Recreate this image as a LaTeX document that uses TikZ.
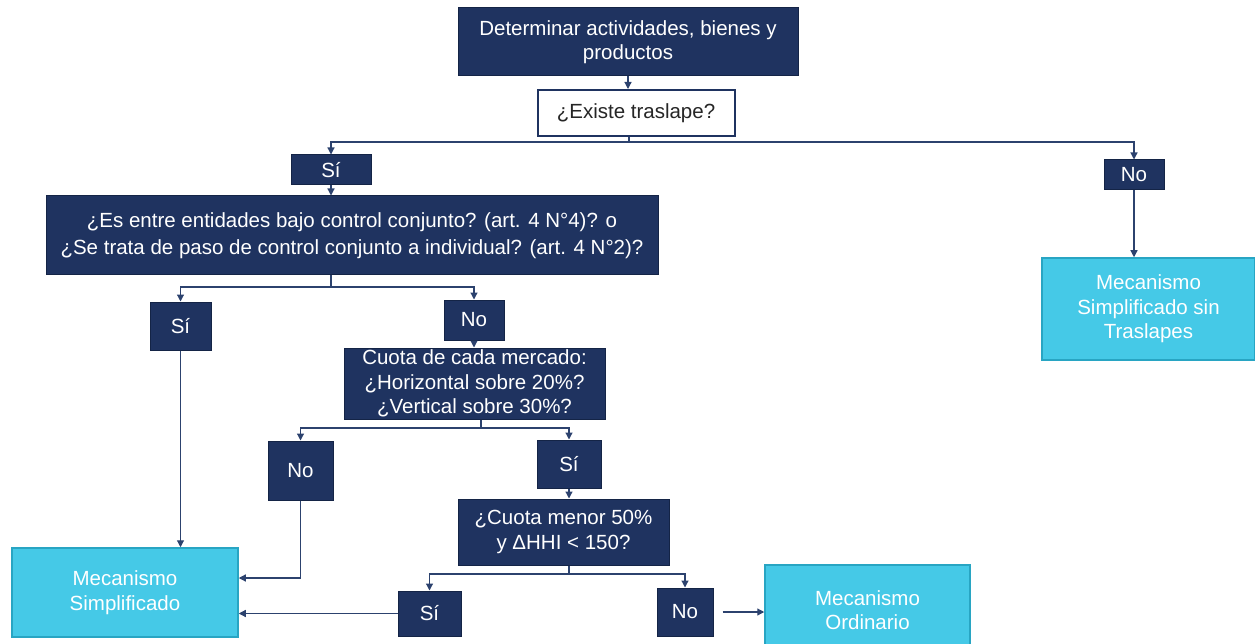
\documentclass[tikz,border=0pt]{standalone}
\usepackage{fontspec}
\setmainfont{Liberation Sans}
\usetikzlibrary{arrows.meta}

\definecolor{navy}{RGB}{31,51,96}
\definecolor{edgenavy}{RGB}{20,36,70}
\definecolor{linknavy}{RGB}{44,66,110}
\definecolor{mecblue}{RGB}{69,201,231}
\definecolor{mecedge}{RGB}{40,165,195}

\tikzset{
  dbox/.style={draw=edgenavy, line width=1pt, fill=navy, text=white, align=center, inner sep=2pt},
  wbox/.style={draw=navy, line width=2pt, fill=white, text=black!85, align=center, inner sep=2pt},
  mbox/.style={draw=mecedge, line width=1.5pt, fill=mecblue, text=white, align=center, inner sep=2pt},
  link/.style={draw=linknavy, line width=1.2pt, -{Triangle[length=7pt,width=7pt]}},
  plain/.style={draw=linknavy, line width=1.2pt}
}

\begin{document}
\begin{tikzpicture}[x=1pt, y=-1pt, font=\fontsize{20.5}{24.5}\selectfont]
\useasboundingbox (0,0) rectangle (1255,644);

% top of the chart
\node[dbox, minimum width=340pt, minimum height=68pt] (det) at (628,42) {Determinar actividades, bienes y\\productos};
\node[wbox, minimum width=197pt, minimum height=46pt] (exist) at (636,113) {¿Existe traslape?};
\node[dbox, minimum width=80pt, minimum height=30pt] (si1) at (331,170) {Sí};
\node[dbox, minimum width=60pt, minimum height=30pt] (no1) at (1134,175) {No};

% control conjunto
\node[dbox, minimum width=612pt, minimum height=79pt, font=\fontsize{20.5}{27}\selectfont] (ctrl) at (352,235.5) {¿Es entre entidades bajo control conjunto? (art. 4 N°4)? o\\¿Se trata de paso de control conjunto a individual? (art. 4 N°2)?};
\node[mbox, minimum width=213pt, minimum height=102pt] (sintras) at (1148.5,309) {Mecanismo\\Simplificado sin\\Traslapes};
\node[dbox, minimum width=61pt, minimum height=48pt] (si2) at (180.5,326) {Sí};
\node[dbox, minimum width=60pt, minimum height=40pt] (no2) at (474,320) {No};

% cuotas
\node[dbox, minimum width=261pt, minimum height=71pt, inner sep=0pt] (cuota) at (474.5,383.5) {Cuota de cada mercado:\\¿Horizontal sobre 20\%?\\¿Vertical sobre 30\%?};
\node[dbox, minimum width=65pt, minimum height=59pt] (no3) at (300.5,470.5) {No};
\node[dbox, minimum width=64pt, minimum height=48pt] (si3) at (569,464) {Sí};
\node[dbox, minimum width=211pt, minimum height=66pt] (menor) at (563.5,532) {¿Cuota menor 50\%\\y ΔHHI < 150?};
\node[dbox, minimum width=63pt, minimum height=45pt] (si4) at (429.5,613.5) {Sí};
\node[dbox, minimum width=56pt, minimum height=48pt] (no4) at (685,612) {No};

% resultados
\node[mbox, minimum width=226pt, minimum height=89pt] (simp) at (125,592.5) {Mecanismo\\Simplificado};
\node[mbox, minimum width=205pt, minimum height=90pt] (ord) at (867.5,610) {Mecanismo\\Ordinario};

% split points
\coordinate (split1) at (629,142);
\coordinate (split2) at (331,287);
\coordinate (split3) at (481,428);
\coordinate (split4) at (569,574);
\coordinate (join3) at (300.5,578);

\draw[link] (det.south) -- (det.south |- exist.north);
\draw[plain] (exist.south -| split1) -- (split1);
\draw[link] (split1) -| (si1.north);
\draw[link] (split1) -| (no1.north);
\draw[link] (si1.south) -- (ctrl.north -| si1.south);
\draw[link] (no1.south) -- (sintras.north -| no1.south);
\draw[plain] (ctrl.south -| split2) -- (split2);
\draw[link] (split2) -| (si2.north);
\draw[link] (split2) -| (no2.north);
\draw[link] (no2.south) -- (cuota.north -| no2.south);
\draw[plain] (cuota.south -| split3) -- (split3);
\draw[link] (split3) -| (no3.north);
\draw[link] (split3) -| (si3.north);
\draw[link] (si3.south) -- (menor.north -| si3.south);
\draw[plain] (menor.south -| split4) -- (split4);
\draw[link] (split4) -| (si4.north);
\draw[link] (split4) -| (no4.north);
\draw[link] (si2.south) -- (simp.north -| si2.south);
\draw[plain] (no3.south) -- (join3);
\draw[link] (join3) -- (join3 -| simp.east);
\draw[link] (si4.west) -- (si4.west -| simp.east);
\draw[link, shorten <=9pt] (no4.east) -- (no4.east -| ord.west);
\end{tikzpicture}
\end{document}
